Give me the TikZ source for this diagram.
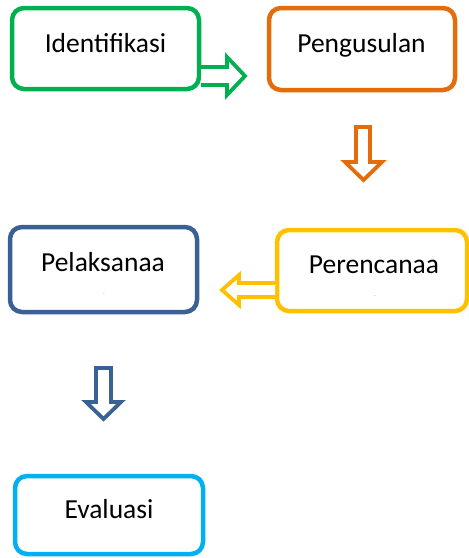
\documentclass[tikz,border=0pt]{standalone}
\usepackage{fontspec}
\setmainfont{Carlito}
\definecolor{cgreen}{HTML}{00B050}
\definecolor{corange}{HTML}{E46C0A}
\definecolor{cyellow}{HTML}{FFC000}
\definecolor{cblue}{HTML}{3A6194}
\definecolor{ccyan}{HTML}{00B0F0}
\begin{document}
\begin{tikzpicture}[x=1pt,y=-1pt,
  box/.style={line width=4.5pt,rounded corners=12pt,fill=white},
  lbl/.style={font=\fontsize{27.5}{30}\selectfont,anchor=base,inner sep=0pt,text=black},
  tick/.style={font=\fontsize{5}{6}\selectfont,text=gray,inner sep=0pt},
  blockarrow/.style={line width=3.8pt,fill=white,line join=miter}]
\useasboundingbox (0,0) rectangle (469,558);
% boxes
\draw[box,draw=cgreen] (12,8) rectangle (199,89);
\draw[box,draw=corange] (269,8) rectangle (455,90);
\draw[box,draw=cyellow] (277,230) rectangle (467,311);
\draw[box,draw=cblue] (10,227) rectangle (197,312);
\draw[box,draw=ccyan] (15,476) rectangle (203,554);
% labels
\node[lbl] (t1) at (105.5,52) {Identifikasi};
\node[lbl] (t2) at (361.5,52) {Pengusulan};
\node[lbl] (t3) at (374,273) {Perencanaa};
\node[lbl] (t4) at (103,271) {Pelaksanaa};
\node[lbl] (t5) at (109,518) {Evaluasi};
\node[tick] (d3) at (375,297) {-};
\node[tick] (d4) at (104,295) {-};
% block arrows
\draw[blockarrow,draw=cgreen] (201,67) -- (227,67) -- (227,57) -- (245,76) -- (227,95) -- (227,85) -- (201,85);
\draw[blockarrow,draw=corange] (356,127) -- (370,127) -- (370,162) -- (382,162) -- (363.5,180) -- (345,162) -- (356,162) -- cycle;
\draw[blockarrow,draw=cyellow] (275,283) -- (239,283) -- (239,275) -- (222,290) -- (239,305) -- (239,297) -- (275,297);
\draw[blockarrow,draw=cblue] (96,368) -- (111,368) -- (111,402) -- (121,402) -- (103.5,419) -- (86,402) -- (96,402) -- cycle;
\end{tikzpicture}
\end{document}
